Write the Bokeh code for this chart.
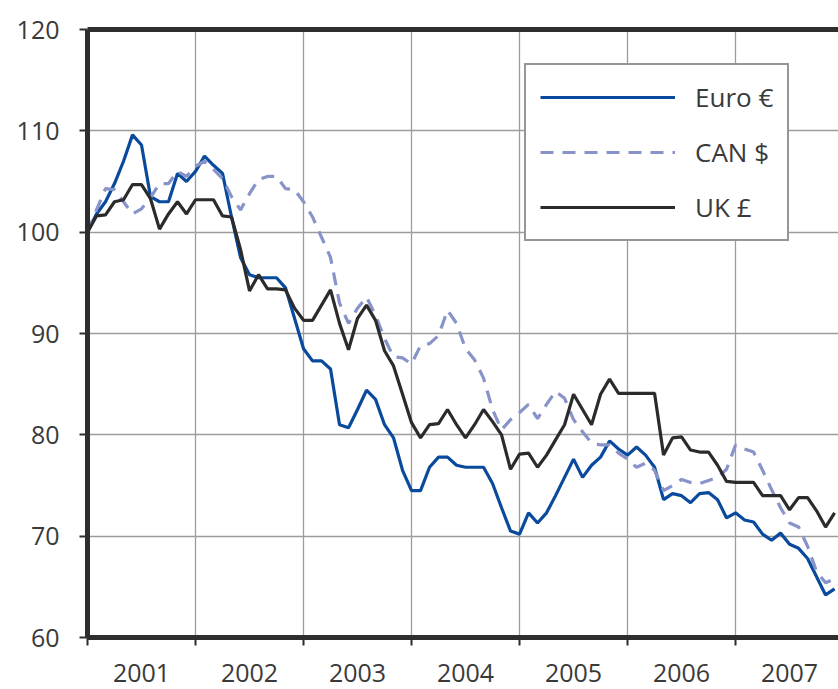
from bokeh.plotting import figure
from bokeh.models import FixedTicker, LinearAxis, Legend, LegendItem, Range1d, Grid
from bokeh.embed import file_html
from bokeh.resources import INLINE

# ---- data (monthly index, Jan 2001 = 100) ----
start_year = 2001
year_labels = ["2001", "2002", "2003", "2004", "2005", "2006", "2007"]
y_ticks = [60, 70, 80, 90, 100, 110, 120]

euro = [100, 101.8, 103, 104.8, 107, 109.6, 108.6, 103.5, 103, 103, 105.8, 105,
        106, 107.5, 106.6, 105.8, 101.5, 97.5, 95.8, 95.5, 95.5, 95.5, 94.5, 91.5,
        88.5, 87.3, 87.3, 86.5, 81, 80.7, 82.5, 84.4, 83.5, 81, 79.7, 76.5,
        74.5, 74.5, 76.8, 77.8, 77.8, 77.0, 76.8, 76.8, 76.8, 75.2, 72.8, 70.5,
        70.2, 72.3, 71.3, 72.3, 74, 75.8, 77.6, 75.8, 77, 77.8, 79.4, 78.6,
        78.0, 78.8, 78, 76.8, 73.6, 74.2, 74, 73.3, 74.2, 74.3, 73.6, 71.8,
        72.3, 71.6, 71.4, 70.2, 69.6, 70.3, 69.2, 68.8, 67.8, 66, 64.2, 64.8]

can = [100, 102.2, 104.3, 104.2, 103, 101.8, 102.3, 103.4, 104.8, 104.8, 106, 105.5,
       106.5, 107, 106.2, 105.3, 103.5, 102.2, 103.8, 105.2, 105.5, 105.5, 104.3, 104.2,
       103, 101.5, 99.5, 97.5, 93, 91, 92.5, 93.6, 91.8, 89.5, 87.7, 87.6,
       87, 88.8, 89, 89.8, 92.3, 91, 88.5, 87.4, 85.6, 82.5, 80.5, 81.5,
       82.2, 83, 81.6, 83, 84.3, 83.6, 81.5, 80.3, 79.2, 79, 79, 78.2,
       77.6, 76.8, 77.2, 76.5, 74.5, 75, 75.6, 75.3, 75.2, 75.5, 75.8, 76.6,
       79, 78.6, 78.3, 76.5, 74.6, 72.8, 71.3, 70.9, 69, 66.5, 65.4, 65.8]

uk = [100, 101.6, 101.7, 103, 103.2, 104.7, 104.7, 103.3, 100.3, 101.8, 103, 101.8,
      103.2, 103.2, 103.2, 101.6, 101.5, 98.3, 94.2, 95.8, 94.4, 94.4, 94.3, 92.5,
      91.3, 91.3, 92.8, 94.3, 91, 88.4, 91.5, 92.8, 91.3, 88.3, 86.8, 84,
      81.2, 79.7, 81, 81.1, 82.5, 81, 79.7, 81, 82.5, 81.3, 80, 76.6,
      78.1, 78.2, 76.8, 78, 79.5, 81, 84, 82.5, 81, 84, 85.5, 84.1,
      84.1, 84.1, 84.1, 84.1, 78, 79.7, 79.8, 78.5, 78.3, 78.3, 77, 75.4,
      75.3, 75.3, 75.3, 74, 74, 74, 72.6, 73.8, 73.8, 72.5, 70.9, 72.3]

x = [start_year + m / 12 for m in range(len(euro))]
year_starts = [start_year + i for i in range(len(year_labels))]
year_mids = [y + 0.5 for y in year_starts]

TEXT = "#3a3a3a"
FRAME = "#2e2e2e"
FONT = "Open Sans"

p = figure(width=838, height=689, output_backend="svg", toolbar_location=None,
           x_range=Range1d(2001, 2007.953), y_range=Range1d(60, 120),
           min_border_left=87, min_border_right=0, min_border_top=29,
           min_border_bottom=52, x_axis_location=None, y_axis_location=None)
p.outline_line_color = None
p.background_fill_color = "white"
p.border_fill_color = "white"

# axes
yax = LinearAxis(ticker=FixedTicker(ticks=y_ticks))
yax.axis_line_width = 5
yax.axis_line_color = FRAME
yax.major_tick_out = 8
yax.major_tick_in = 0
yax.major_tick_line_width = 2
yax.major_tick_line_color = FRAME
yax.minor_tick_line_color = None
yax.major_label_standoff = 20
yax.major_label_text_font = FONT
yax.major_label_text_font_size = "25px"
yax.major_label_text_color = TEXT
p.add_layout(yax, "left")

xax = LinearAxis(ticker=FixedTicker(ticks=year_mids, minor_ticks=year_starts))
xax.major_label_overrides = {m: lab for m, lab in zip(year_mids, year_labels)}
xax.axis_line_width = 5
xax.axis_line_color = FRAME
xax.major_tick_line_color = None
xax.major_tick_out = 0
xax.major_tick_in = 0
xax.minor_tick_out = 8
xax.minor_tick_in = 0
xax.minor_tick_line_width = 2
xax.minor_tick_line_color = FRAME
xax.major_label_standoff = 18
xax.major_label_text_font = FONT
xax.major_label_text_font_size = "25px"
xax.major_label_text_color = TEXT
p.add_layout(xax, "below")

tax = LinearAxis(ticker=FixedTicker(ticks=[]))
tax.axis_line_width = 5
tax.axis_line_color = FRAME
tax.major_tick_line_color = None
tax.minor_tick_line_color = None
tax.major_tick_out = 0
tax.major_label_text_font_size = "0px"
tax.major_label_standoff = 0
p.add_layout(tax, "above")

# grids
p.add_layout(Grid(dimension=0, ticker=FixedTicker(ticks=year_starts[1:]),
                  grid_line_color="#9c9c9c", grid_line_width=1.3))
p.add_layout(Grid(dimension=1, ticker=FixedTicker(ticks=y_ticks[1:-1]),
                  grid_line_color="#9c9c9c", grid_line_width=1.3))

# lines
r_euro = p.line(x, euro, line_color="#0a4a9c", line_width=3.2)
r_can = p.line(x, can, line_color="#8793c9", line_width=3.2, line_dash="13 9")
r_uk = p.line(x, uk, line_color="#2b2b2b", line_width=3.2)

legend = Legend(items=[LegendItem(label="Euro €", renderers=[r_euro]),
                       LegendItem(label="CAN $", renderers=[r_can]),
                       LegendItem(label="UK £", renderers=[r_uk])],
                location=(437, 396))
legend.glyph_width = 135
legend.glyph_height = 28
legend.label_standoff = 20
legend.padding = 14
legend.spacing = 19
legend.label_text_font = FONT
legend.label_text_font_size = "26px"
legend.label_text_color = TEXT
legend.border_line_color = FRAME
legend.border_line_width = 2
legend.background_fill_alpha = 1
legend.margin = 0
p.add_layout(legend, "center")

open("out.html", "w").write(file_html(p, INLINE))
